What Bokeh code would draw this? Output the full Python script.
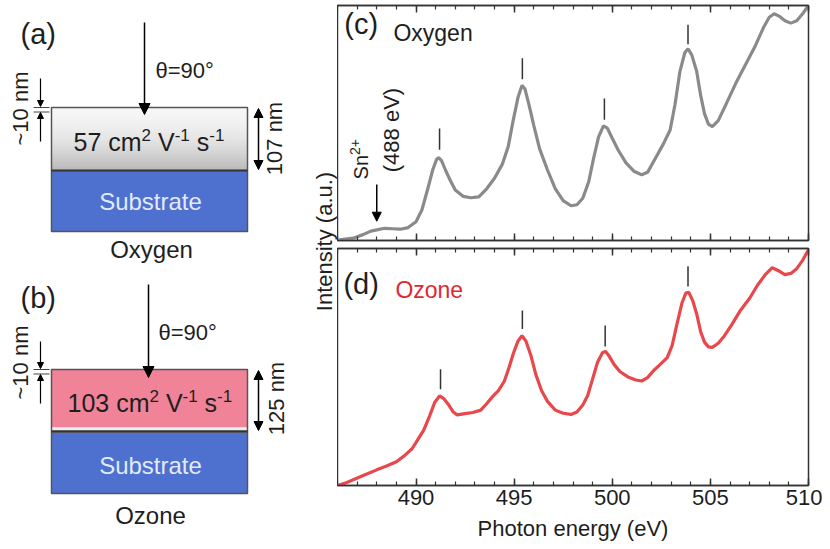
import numpy as np
from bokeh.plotting import figure
from bokeh.models import (Range1d, LinearAxis, SingleIntervalTicker, Arrow, NormalHead,
                          CustomLabelingPolicy)
from bokeh.layouts import row, column
from bokeh.embed import file_html
from bokeh.resources import INLINE
from bokeh.core.properties import value

FONT = "Liberation Sans"
INK = "#1e1e1e"

# ---------------- data ----------------
energy_oxygen = [485.95, 486.3, 486.8, 487.3, 487.7, 488.0, 488.4, 488.8, 489.2, 489.6,
                 490.0, 490.3, 490.6, 490.85, 491.05, 491.15, 491.3, 491.5, 491.75, 492.0,
                 492.4, 492.8, 493.2, 493.6, 494.0, 494.4, 494.7, 494.95, 495.2, 495.4,
                 495.55, 495.75, 496.0, 496.3, 496.7, 497.1, 497.5, 497.9, 498.2, 498.5,
                 498.8, 499.05, 499.3, 499.55, 499.75, 500.0, 500.3, 500.7, 501.1, 501.5,
                 501.8, 502.2, 502.6, 502.95, 503.2, 503.45, 503.7, 503.86, 504.05, 504.3,
                 504.5, 504.7, 504.9, 505.1, 505.4, 505.8, 506.3, 506.8, 507.3, 507.7,
                 508.0, 508.25, 508.5, 508.8, 509.1, 509.4, 509.7, 510.0]
intensity_oxygen = [0.000, 0.005, 0.010, 0.025, 0.040, 0.045, 0.052, 0.050, 0.048, 0.055,
                    0.080, 0.130, 0.220, 0.300, 0.345, 0.353, 0.340, 0.300, 0.255, 0.215,
                    0.188, 0.182, 0.186, 0.220, 0.265, 0.325, 0.400, 0.510, 0.610, 0.660,
                    0.645, 0.580, 0.490, 0.390, 0.300, 0.220, 0.170, 0.148, 0.152, 0.180,
                    0.250, 0.350, 0.440, 0.488, 0.478, 0.435, 0.385, 0.330, 0.295, 0.280,
                    0.290, 0.350, 0.410, 0.470, 0.580, 0.720, 0.800, 0.816, 0.790, 0.720,
                    0.620, 0.540, 0.495, 0.485, 0.510, 0.580, 0.670, 0.750, 0.830, 0.905,
                    0.950, 0.965, 0.955, 0.935, 0.925, 0.935, 0.965, 1.000]

energy_ozone = [486.0, 486.4, 486.8, 487.4, 488.0, 488.5, 489.0, 489.4, 489.8, 490.1,
                490.4, 490.7, 490.95, 491.2, 491.4, 491.65, 491.9, 492.1, 492.5, 492.9,
                493.3, 493.6, 493.9, 494.2, 494.5, 494.75, 494.95, 495.2, 495.4, 495.6,
                495.85, 496.1, 496.4, 496.7, 497.1, 497.5, 497.9, 498.2, 498.5, 498.75,
                499.0, 499.25, 499.5, 499.65, 499.85, 500.1, 500.4, 500.8, 501.2, 501.5,
                501.8, 502.1, 502.5, 502.8, 503.05, 503.3, 503.55, 503.75, 503.9, 504.1,
                504.3, 504.5, 504.7, 504.9, 505.1, 505.4, 505.7, 506.1, 506.5, 507.0,
                507.4, 507.8, 508.15, 508.5, 508.8, 509.1, 509.4, 509.7, 510.0]
intensity_ozone = [0.000, 0.010, 0.024, 0.045, 0.066, 0.082, 0.100, 0.125, 0.155, 0.195,
                   0.235, 0.295, 0.350, 0.378, 0.368, 0.342, 0.310, 0.298, 0.303, 0.308,
                   0.318, 0.345, 0.375, 0.400, 0.440, 0.500, 0.555, 0.610, 0.632, 0.610,
                   0.550, 0.470, 0.400, 0.355, 0.318, 0.305, 0.300, 0.310, 0.340, 0.380,
                   0.450, 0.520, 0.560, 0.566, 0.545, 0.510, 0.480, 0.458, 0.445, 0.441,
                   0.455, 0.484, 0.515, 0.540, 0.590, 0.682, 0.770, 0.812, 0.815, 0.780,
                   0.725, 0.650, 0.605, 0.585, 0.583, 0.600, 0.630, 0.680, 0.735, 0.790,
                   0.845, 0.890, 0.919, 0.905, 0.890, 0.895, 0.915, 0.950, 0.995]

peak_energy_oxygen = [491.2, 495.42, 499.6, 503.86]
peak_bar_lo_oxygen = [0.386, 0.686, 0.514, 0.835]
peak_bar_hi_oxygen = [0.477, 0.776, 0.604, 0.918]
peak_energy_ozone = [491.25, 495.42, 499.64, 503.86]
peak_bar_lo_ozone = [0.406, 0.660, 0.587, 0.840]
peak_bar_hi_ozone = [0.490, 0.738, 0.675, 0.925]

sn_energy = 488.0
x_min, x_max = 486.0, 510.0
tick_interval = 5

# approximate advance widths (em) of Liberation Sans, used to lay out superscripts
ADV = {"0": .556, "1": .556, "2": .556, "3": .556, "5": .556, "7": .556, " ": .278,
       "c": .5, "m": .833, "V": .667, "s": .5, "-": .333, "S": .667, "n": .556, "+": .584}


def width(s, px):
    return sum(ADV.get(ch, .556) for ch in s) * px


# ---------------- left schematic panel ----------------
LW, LH = 337, 541
L = figure(width=LW, height=LH, x_range=Range1d(0, LW), y_range=Range1d(LH, 0),
           output_backend="svg", toolbar_location=None, x_axis_type=None, y_axis_type=None,
           min_border=0)
L.grid.visible = False
L.outline_line_color = None


def txt(fig, x, y, s, size="22px", color=INK, align="center", angle=0.0, baseline="middle"):
    fig.text(x=[x], y=[y], text=[s], text_font=value(FONT), text_font_size=size,
             text_color=color, text_align=align, text_baseline=baseline, angle=angle)


BASE_PX, SUP_PX = 25, 17


def mobility(fig, x0, mid_y, number):
    """text like '57 cm2 V-1 s-1' with real raised superscripts"""
    pieces = [(number + " cm", False, 0), ("2", True, 0), ("V", False, 1), ("-1", True, 0),
              ("s", False, 1), ("-1", True, 0)]
    x = x0
    space = width(" ", BASE_PX)
    for s, sup, gap in pieces:
        x += gap * space
        px = SUP_PX if sup else BASE_PX
        txt(fig, x, mid_y - (7 if sup else 0), s, size="%dpx" % px, align="left")
        x += width(s, px)


def arrow(fig, x0, y0, x1, y1, size=10, both=False, lw=1.5):
    head = NormalHead(size=size, fill_color="black", line_color="black", line_width=1)
    start = NormalHead(size=size, fill_color="black", line_color="black", line_width=1) if both else None
    fig.add_layout(Arrow(end=head, start=start, x_start=x0, y_start=y0, x_end=x1, y_end=y1,
                         line_width=lw, line_color="black"))


BX0, BX1 = 51, 247
BLUE = "#4e70ce"
SUB_TXT = "#e2eaff"

# (a) oxygen
top_a, mid_a, bot_a = 107, 170, 231
n = 48
edges = np.linspace(top_a, mid_a, n + 1)
t = (np.arange(n) + 0.5) / n
lev = (247 - 62 * t ** 1.8).astype(int)
cols = ["#%02x%02x%02x" % (v, v, v) for v in lev]
L.quad(left=BX0, right=BX1, top=edges[:-1], bottom=edges[1:], fill_color=cols,
       line_color=cols, line_width=1)
L.quad(left=[BX0], right=[BX1], top=[mid_a], bottom=[bot_a], fill_color=BLUE, line_color=None)
L.quad(left=[BX0], right=[BX1], top=[top_a], bottom=[bot_a], fill_color=None, line_color="#555555", line_width=1.5)
L.segment(x0=[BX0], y0=[mid_a], x1=[BX1], y1=[mid_a], line_color="#333333", line_width=2)
txt(L, 20, 33, "(a)", size="29px", align="left")
arrow(L, 144, 22, 144, 114, size=11)
txt(L, 155, 70, "θ=90°", align="left")
mobility(L, 73, 141, "57")
txt(L, 150, 201, "Substrate", size="24px", color=SUB_TXT)
arrow(L, 258, 108, 258, 169, size=9, both=True)
txt(L, 274, 138, "107 nm", angle=np.pi / 2)
txt(L, 20, 108, "~10 nm", angle=np.pi / 2)
arrow(L, 40, 78, 40, 106, size=6, lw=1.2)
arrow(L, 40, 141, 40, 112, size=6, lw=1.2)
L.segment(x0=[33, 33], y0=[107, 111.5], x1=[49, 49], y1=[107, 111.5], line_color="#444444", line_width=1)
txt(L, 151, 249, "Oxygen", size="24px")

# (b) ozone
top_b, mid_b, bot_b = 369, 432, 493
L.quad(left=[BX0], right=[BX1], top=[top_b], bottom=[427], fill_color="#f08398", line_color=None)
L.quad(left=[BX0], right=[BX1], top=[427], bottom=[430], fill_color="#eeeeee", line_color=None)
L.quad(left=[BX0], right=[BX1], top=[mid_b], bottom=[bot_b], fill_color=BLUE, line_color=None)
L.quad(left=[BX0], right=[BX1], top=[top_b], bottom=[bot_b], fill_color=None, line_color="#555555", line_width=1.5)
L.segment(x0=[BX0], y0=[431], x1=[BX1], y1=[431], line_color="#333333", line_width=2.5)
txt(L, 20, 297, "(b)", size="29px", align="left")
arrow(L, 148, 284, 148, 377, size=11)
txt(L, 158, 332, "θ=90°", align="left")
mobility(L, 67, 402, "103")
txt(L, 150, 465, "Substrate", size="24px", color=SUB_TXT)
arrow(L, 258, 370, 258, 430, size=9, both=True)
txt(L, 276, 398, "125 nm", angle=np.pi / 2)
txt(L, 20, 362, "~10 nm", angle=np.pi / 2)
arrow(L, 40, 341, 40, 368, size=6, lw=1.2)
arrow(L, 40, 403, 40, 374, size=6, lw=1.2)
L.segment(x0=[33, 33], y0=[369, 373.5], x1=[49, 49], y1=[369, 373.5], line_color="#444444", line_width=1)
txt(L, 150, 515, "Ozone", size="24px")

# shared y label of the spectra
txt(L, 324, 241, "Intensity (a.u.)", size="22px", angle=np.pi / 2)


# ---------------- spectra ----------------
def make_axis(show_labels):
    ax = LinearAxis(ticker=SingleIntervalTicker(interval=tick_interval, num_minor_ticks=5))
    ax.major_tick_in = 7
    ax.major_tick_out = 0
    ax.minor_tick_in = 4
    ax.minor_tick_out = 0
    for attr in ("axis_line_color", "major_tick_line_color", "minor_tick_line_color"):
        setattr(ax, attr, "#333333")
    ax.axis_line_width = 1.5
    ax.major_tick_line_width = 1.5
    ax.minor_tick_line_width = 1.2
    if show_labels:
        ax.major_label_text_font = FONT
        ax.major_label_text_font_size = "22px"
        ax.major_label_text_color = INK
        ax.major_label_standoff = 4
        ax.axis_label = "Photon energy (eV)"
        ax.axis_label_text_font = FONT
        ax.axis_label_text_font_size = "22px"
        ax.axis_label_text_font_style = "normal"
        ax.axis_label_text_color = INK
        ax.axis_label_standoff = 8
    else:
        ax.major_label_policy = CustomLabelingPolicy(
            code="for (const i of indices) indices.unset(i); return indices")
        ax.major_label_text_font_size = "1px"
        ax.major_label_standoff = 0
    return ax


def spectrum_fig(frame_h, top_border, bottom_border, show_labels):
    p = figure(frame_width=471, frame_height=frame_h, x_range=Range1d(x_min, x_max),
               y_range=Range1d(0, 1), output_backend="svg", toolbar_location=None,
               x_axis_type=None, y_axis_type=None, min_border_left=0, min_border_right=14,
               min_border_top=top_border, min_border_bottom=bottom_border)
    p.grid.visible = False
    p.outline_line_color = "#333333"
    p.outline_line_width = 1.5
    p.add_layout(make_axis(False), "above")
    p.add_layout(make_axis(show_labels), "below")
    return p


PX_PER_EV = 471 / (x_max - x_min)

C = spectrum_fig(235, 5, 0, False)
C.line(energy_oxygen, intensity_oxygen, line_color="#8a8a8a", line_width=3.2)
C.segment(x0=peak_energy_oxygen, y0=peak_bar_lo_oxygen, x1=peak_energy_oxygen, y1=peak_bar_hi_oxygen,
          line_color="#333333", line_width=1.5)
txt(C, 486.35, 0.92, "(c)", size="29px", align="left")
txt(C, 488.85, 0.885, "Oxygen", size="23px", align="left")
# rotated "Sn2+" with a raised superscript
sn_x = 486.0 + 23 / PX_PER_EV
txt(C, sn_x, 0.26, "Sn", size="20px", align="left", angle=np.pi / 2)
txt(C, sn_x - 6 / PX_PER_EV, 0.26 + width("Sn", 20) / 235, "2+", size="14px", align="left",
    angle=np.pi / 2)
txt(C, 488.75, 0.47, "(488 eV)", angle=np.pi / 2)
arrow(C, sn_energy, 0.238, sn_energy, 0.082, size=9)

D = spectrum_fig(237, 0, 64, True)
D.line(energy_ozone, intensity_ozone, line_color="#e8474b", line_width=3.2)
D.segment(x0=peak_energy_ozone, y0=peak_bar_lo_ozone, x1=peak_energy_ozone, y1=peak_bar_hi_ozone,
          line_color="#333333", line_width=1.5)
txt(D, 486.3, 0.852, "(d)", size="29px", align="left")
txt(D, 488.95, 0.827, "Ozone", size="23px", align="left", color="#e0282e")

layout = row(L, column(C, D, spacing=0), spacing=0)
open("out.html", "w").write(file_html(layout, INLINE))
